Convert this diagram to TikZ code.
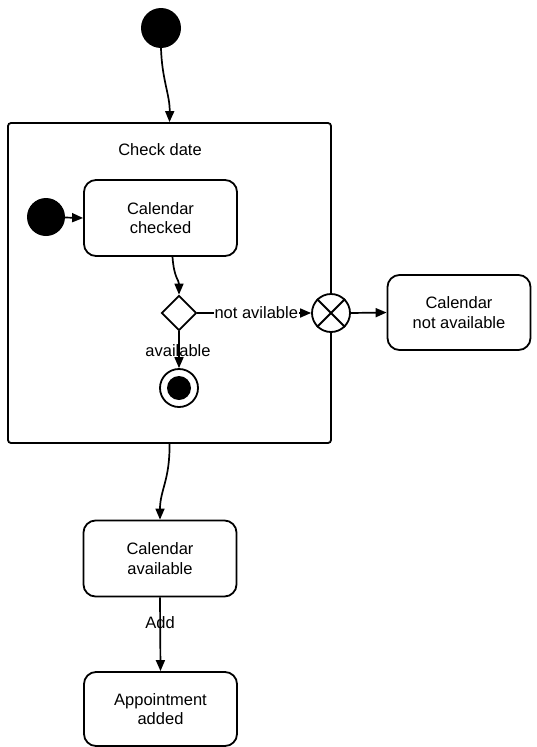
\documentclass[tikz,border=0pt]{standalone}
\usepackage{fontspec}
\setmainfont{Liberation Sans}
\usetikzlibrary{arrows.meta,shapes.geometric}
\begin{document}
\begin{tikzpicture}[x=1pt,y=-1pt,
  txt/.style={font=\fontsize{16.5}{19.5}\selectfont},
  state/.style={draw, line width=1.8pt, rounded corners=12pt, minimum width=153pt, minimum height=76pt, align=center, txt},
  init/.style={circle, fill=black, minimum size=40pt, inner sep=0pt},
  ring/.style={circle, draw, line width=1.8pt, minimum size=38pt, inner sep=0pt},
  arr/.style={line width=1.7pt, -{Triangle[length=11pt,width=9pt]}}]
\useasboundingbox (0,0) rectangle (537,747);
% composite state
\node[draw, line width=1.8pt, rounded corners=3pt, minimum width=323pt, minimum height=320pt, inner sep=0pt] (cd) at (169.5,283) {};
\node[txt] (cdl) at (160,150) {Check date};
% top initial
\node[init] (i0) at (161,28) {};
% inner
\node[init, minimum size=38pt] (i1) at (46,217) {};
\node[state] (cc) at (160.5,218) {Calendar\\checked};
\node[diamond, draw, line width=1.8pt, minimum width=35pt, minimum height=35pt, inner sep=0pt] (dm) at (179,313) {};
\node[ring, fill=white] (ex) at (331,313) {};
\draw[line width=1.8pt] (ex.north west) -- (ex.south east) (ex.north east) -- (ex.south west);
\node[ring] (fin) at (179,388) {};
\node[circle, fill=black, minimum size=24pt, inner sep=0pt] (fin2) at (179,388) {};
\node[state, minimum width=143pt, minimum height=75pt] (cna) at (459,312.5) {Calendar\\not available};
\node[state] (ca) at (160,558.5) {Calendar\\available};
\node[state, minimum height=74pt] (aa) at (160.5,709) {Appointment\\added};
% labels drawn under lines
\node[txt] (lav) at (178,351) {available};
\node[txt] (ladd) at (160,623) {Add};
% edges
\draw[arr] (i0.south) .. controls (162,80) and (170,95) .. (cd.north);
\draw[arr] (i1) -- (cc.west);
\draw[arr] ([xshift=12pt]cc.south) .. controls (174,278) and (179,280) .. (dm.north);
\draw[arr] (dm.east) -- node[txt, fill=white, inner sep=1pt, xshift=2pt] (lna) {not avilable} (ex.west);
\draw[arr] (dm.south) -- (fin.north);
\draw[arr] (ex.east) -- (cna.west);
\draw[arr] (cd.south) .. controls (170,480) and (160,490) .. (ca.north);
\draw[arr] (ca.south) -- (aa.north);
\end{tikzpicture}
\end{document}
